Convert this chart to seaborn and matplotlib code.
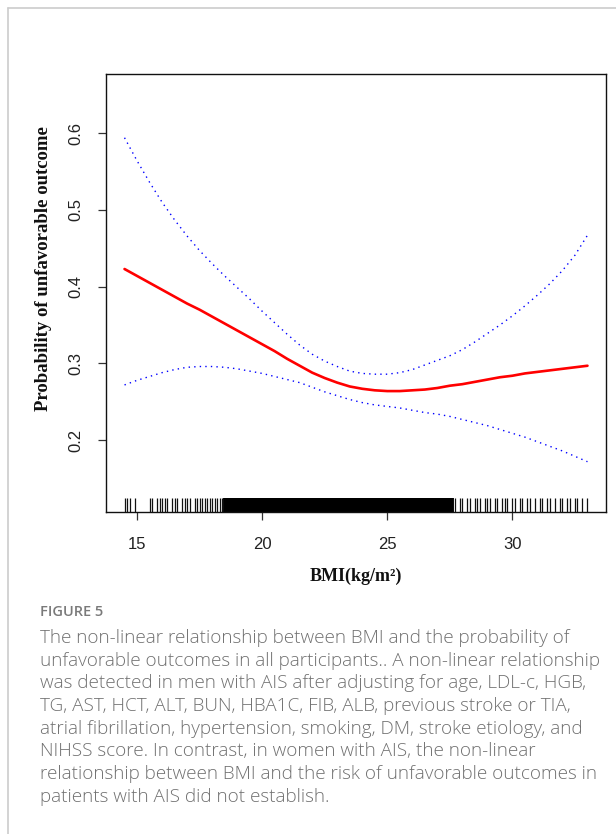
import matplotlib
matplotlib.use("Agg")
import matplotlib.pyplot as plt
import seaborn as sns
from matplotlib.lines import Line2D

# === data ===
bmi_grid = [14.5, 15.0, 15.5, 16.0, 16.5, 17.0, 17.5, 18.0, 18.5, 19.0,
            19.5, 20.0, 20.5, 21.0, 21.5, 22.0, 22.5, 23.0, 23.5, 24.0,
            24.5, 25.0, 25.5, 26.0, 26.5, 27.0, 27.5, 28.0, 28.5, 29.0,
            29.5, 30.0, 30.5, 31.0, 31.5, 32.0, 32.5, 33.0]
prob_fit = [0.423, 0.414, 0.405, 0.396, 0.387, 0.378, 0.370, 0.361, 0.352, 0.343,
            0.334, 0.325, 0.316, 0.306, 0.297, 0.288, 0.281, 0.275, 0.270, 0.267,
            0.265, 0.264, 0.264, 0.265, 0.266, 0.268, 0.271, 0.273, 0.276, 0.279,
            0.282, 0.284, 0.287, 0.289, 0.291, 0.293, 0.295, 0.297]
ci_upper = [0.594, 0.564, 0.536, 0.510, 0.487, 0.466, 0.447, 0.430, 0.414, 0.399,
            0.384, 0.368, 0.353, 0.338, 0.324, 0.312, 0.303, 0.296, 0.290, 0.287,
            0.286, 0.286, 0.288, 0.292, 0.298, 0.304, 0.310, 0.318, 0.328, 0.339,
            0.350, 0.362, 0.375, 0.389, 0.404, 0.421, 0.441, 0.467]
ci_lower = [0.272, 0.278, 0.283, 0.288, 0.292, 0.295, 0.296, 0.296, 0.295, 0.293,
            0.290, 0.287, 0.283, 0.279, 0.275, 0.269, 0.263, 0.258, 0.253, 0.249,
            0.246, 0.244, 0.242, 0.239, 0.236, 0.234, 0.231, 0.227, 0.223, 0.219,
            0.214, 0.209, 0.204, 0.198, 0.192, 0.186, 0.179, 0.172]

# observed BMI values (rug), sparse tails and dense middle
rug_sparse = [14.5, 14.6, 14.7, 14.9, 15.5, 15.6, 15.8, 15.9, 16.0, 16.1, 16.2,
              16.4, 16.5, 16.6, 16.8, 16.9, 17.0, 17.1, 17.3, 17.4, 17.5, 17.6,
              17.7, 17.8, 17.9, 18.0, 18.1, 18.2, 18.3, 18.4,
              27.7, 27.9, 28.0, 28.2, 28.3, 28.5, 28.6, 28.7, 28.9, 29.0, 29.1,
              29.3, 29.4, 29.6, 29.7, 29.8, 30.0, 30.1, 30.3, 30.4, 30.6, 30.7,
              30.9, 31.1, 31.2, 31.4, 31.5, 31.7, 31.9, 32.0, 32.2, 32.3, 32.5,
              32.6, 32.8, 33.0]
rug_dense = [18.5, 18.6, 18.7, 18.8, 18.9, 19.0, 19.1, 19.2, 19.3, 19.4,
             19.5, 19.6, 19.7, 19.8, 19.9, 20.0, 20.1, 20.2, 20.3, 20.4,
             20.5, 20.6, 20.7, 20.8, 20.9, 21.0, 21.1, 21.2, 21.3, 21.4,
             21.5, 21.6, 21.7, 21.8, 21.9, 22.0, 22.1, 22.2, 22.3, 22.4,
             22.5, 22.6, 22.7, 22.8, 22.9, 23.0, 23.1, 23.2, 23.3, 23.4,
             23.5, 23.6, 23.7, 23.8, 23.9, 24.0, 24.1, 24.2, 24.3, 24.4,
             24.5, 24.6, 24.7, 24.8, 24.9, 25.0, 25.1, 25.2, 25.3, 25.4,
             25.5, 25.6, 25.7, 25.8, 25.9, 26.0, 26.1, 26.2, 26.3, 26.4,
             26.5, 26.6, 26.7, 26.8, 26.9, 27.0, 27.1, 27.2, 27.3, 27.4,
             27.5, 27.6]

x_ticks = [15, 20, 25, 30]
y_ticks = [0.2, 0.3, 0.4, 0.5, 0.6]

caption_title = "FIGURE 5"
caption_lines = [
    "The non-linear relationship between BMI and the probability of",
    "unfavorable outcomes in all participants.. A non-linear relationship",
    "was detected in men with AIS after adjusting for age, LDL-c, HGB,",
    "TG, AST, HCT, ALT, BUN, HBA1C, FIB, ALB, previous stroke or TIA,",
    "atrial fibrillation, hypertension, smoking, DM, stroke etiology, and",
    "NIHSS score. In contrast, in women with AIS, the non-linear",
    "relationship between BMI and the risk of unfavorable outcomes in",
    "patients with AIS did not establish.",
]

# === figure ===
sns.set_theme(style="white")
plt.rcParams["font.family"] = ["Liberation Sans", "DejaVu Sans"]

W, H = 616, 834
fig = plt.figure(figsize=(W / 100, H / 100), dpi=100)
ax = fig.add_axes([106 / W, 1 - 512 / H, 500 / W, 438 / H])

sns.lineplot(x=bmi_grid, y=ci_upper, ax=ax, color="blue", lw=1.0,
             linestyle=(0, (1, 3)), sort=False)
sns.lineplot(x=bmi_grid, y=ci_lower, ax=ax, color="blue", lw=1.0,
             linestyle=(0, (1, 3)), sort=False)
sns.lineplot(x=bmi_grid, y=prob_fit, ax=ax, color="red", lw=1.9, sort=False)

sns.rugplot(x=rug_sparse, ax=ax, height=0.032, color="#111111", linewidth=0.9)
sns.rugplot(x=rug_dense, ax=ax, height=0.032, color="black", linewidth=2.8)

ax.set_xlim(13.76, 33.74)
ax.set_ylim(0.1065, 0.677)
ax.set_xticks(x_ticks)
ax.set_yticks(y_ticks)
ax.set_xticklabels([str(t) for t in x_ticks], fontsize=12, color="#222222")
ax.set_yticklabels([f"{t:.1f}" for t in y_ticks], fontsize=12, color="#222222",
                   rotation=90, va="center")
ax.tick_params(axis="both", direction="out", length=6, width=0.9,
               color="#333333", bottom=True, left=True)
ax.tick_params(axis="x", pad=12)
ax.tick_params(axis="y", pad=10)
for s in ax.spines.values():
    s.set_color("#111111")
    s.set_linewidth(1.0)

ax.set_xlabel("BMI(kg/m²)", family=["Liberation Serif"], fontweight="bold",
              fontsize=13, labelpad=11, color="#111111")
ax.set_ylabel("Probability of unfavorable outcome", family=["Liberation Serif"],
              fontweight="bold", fontsize=13.5, color="#111111")
ax.yaxis.set_label_coords(-0.108, 0.555)

# page frame lines
fig.add_artist(Line2D([8 / W, 1], [1 - 8 / H, 1 - 8 / H], color="#cccccc", lw=1.2,
                      transform=fig.transFigure))
fig.add_artist(Line2D([8 / W, 8 / W], [0, 1 - 8 / H], color="#cccccc", lw=1.2,
                      transform=fig.transFigure))

# caption
fig.text(40 / W, 1 - 612 / H, caption_title, family=["Open Sans", "DejaVu Sans"],
         fontsize=10.5, fontweight="semibold", color="#7a7a7a", va="center", ha="left")
for i, line in enumerate(caption_lines):
    fig.text(40 / W, 1 - (638 + i * 22.7) / H, line,
             family=["Open Sans", "DejaVu Sans"], fontsize=13.6, fontweight="light",
             color="#707070", va="center", ha="left")

fig.savefig("out.png", dpi=100, facecolor="white")
